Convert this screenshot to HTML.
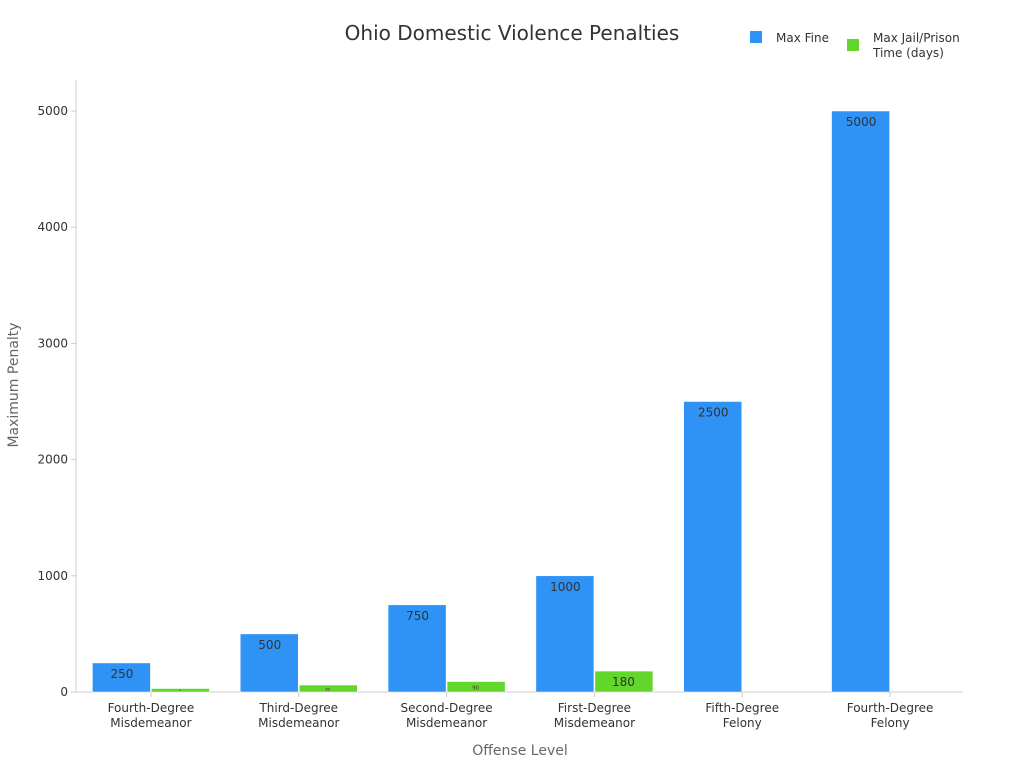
<!DOCTYPE html>
<html><head><meta charset="utf-8"><style>
body{margin:0;background:#fff;font-family:"Liberation Sans","DejaVu Sans",sans-serif}
</style></head><body>
<svg width="1024" height="768" xmlns="http://www.w3.org/2000/svg" font-family="DejaVu Sans, Liberation Sans, sans-serif">
<text x="512" y="40" text-anchor="middle" font-size="20" fill="#333">Ohio Domestic Violence Penalties</text>
<g>
<rect x="750" y="31" width="12" height="12" fill="#2e93f5"/>
<text x="776" y="42" font-size="12" fill="#333">Max Fine</text>
<rect x="847" y="39" width="12" height="12" fill="#62d62a"/>
<text x="873" y="42" font-size="12" fill="#333">Max Jail/Prison</text>
<text x="873" y="57" font-size="12" fill="#333">Time (days)</text>
</g>
<g id="plot"></g>
<text x="520" y="755" text-anchor="middle" font-size="14" fill="#666">Offense Level</text>
<text transform="translate(18,385) rotate(-90)" text-anchor="middle" font-size="14" fill="#666">Maximum Penalty</text>
</svg>
<script>
const categories=[["Fourth-Degree","Misdemeanor"],["Third-Degree","Misdemeanor"],["Second-Degree","Misdemeanor"],["First-Degree","Misdemeanor"],["Fifth-Degree","Felony"],["Fourth-Degree","Felony"]];
const fineValues=[250,500,750,1000,2500,5000];
const jailValues=[30,60,90,180,0,0];
const yTicks=[0,1000,2000,3000,4000,5000];
const NS="http://www.w3.org/2000/svg";
const g=document.getElementById('plot');
const X0=76,X1=963,Y0=692,Y5=111;
const y=v=>Y0-(v/5000)*(Y0-Y5);
const step=(X1-X0)/categories.length;
const cx=i=>X0+step*(i+0.5)+1;
function el(t,a){const e=document.createElementNS(NS,t);for(const k in a)e.setAttribute(k,a[k]);g.appendChild(e);return e;}
let ax=el('line',{x1:X0,y1:80,x2:X0,y2:Y0,stroke:'#ccc'});


let bx=el('line',{x1:X0,y1:Y0,x2:X1,y2:Y0,stroke:'#ccc'});


yTicks.forEach(v=>{
 let t=el('text',{x:X0-8,y:y(v)+4,'text-anchor':'end','font-size':12,fill:'#333'});t.textContent=v;
 
 
 let l=el('line',{x1:X0-5,y1:y(v),x2:X0,y2:y(v),stroke:'#ccc'});
 
 
});
const bw=58;
categories.forEach((c,i)=>{
 const c0=cx(i);
 let b=el('rect',{x:c0-bw-0.5,y:y(fineValues[i]),width:bw,height:Y0-y(fineValues[i]),fill:'#2e93f5',stroke:'#fff','stroke-width':0.5});
 
 
 let bl=el('text',{x:c0-bw/2,y:y(fineValues[i])+15,'text-anchor':'middle','font-size':12,fill:'#333'});bl.textContent=fineValues[i];
 
 
 if(jailValues[i]>0){
  let j=el('rect',{x:c0+0.5,y:y(jailValues[i]),width:bw,height:Y0-y(jailValues[i]),fill:'#62d62a',stroke:'#fff','stroke-width':0.5});
  
  
  const h=Y0-y(jailValues[i]);
  const fs=h>12?12:Math.max(2,h*0.5);
  let jl=el('text',{x:c0+bw/2,y:y(jailValues[i])+(h>12?15:h*0.75),'text-anchor':'middle','font-size':fs,fill:'#333'});jl.textContent=jailValues[i];
  
  
 }
 let tk=el('line',{x1:c0,y1:Y0,x2:c0,y2:Y0+5,stroke:'#ccc'});
 
 
 c.forEach((s,k)=>{
  let t=el('text',{x:c0,y:Y0+20+k*15,'text-anchor':'middle','font-size':12,fill:'#333'});t.textContent=s;
  
  
 });
});
</script>
</body></html>
